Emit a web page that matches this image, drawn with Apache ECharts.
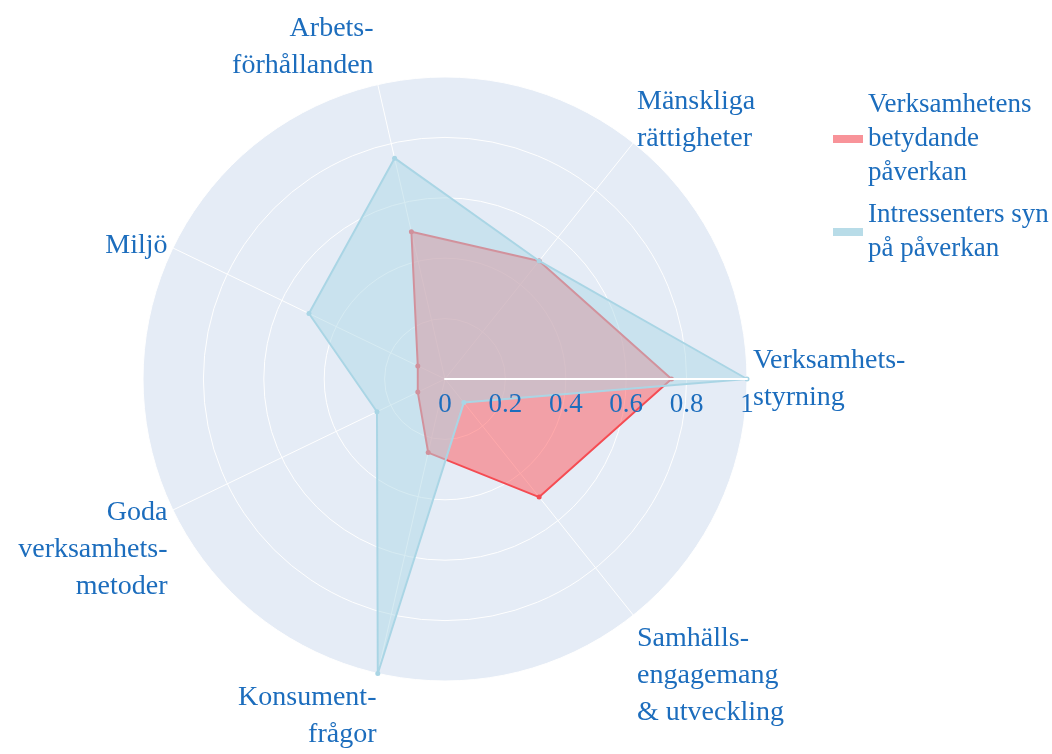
<!DOCTYPE html>
<html>
<head>
<meta charset="utf-8">
<script src="https://cdn.jsdelivr.net/npm/echarts@6/dist/echarts.min.js"></script>
<style>
  html, body { margin: 0; padding: 0; background: #fff; }
  #chart { width: 1052px; height: 754px; }
</style>
</head>
<body>
<div id="chart"></div>
<script>
// axes, counter-clockwise from the right
const categories = [
  'Verksamhets-\nstyrning',
  'Mänskliga\nrättigheter',
  'Arbets-\nförhållanden',
  'Miljö',
  'Goda\nverksamhets-\nmetoder',
  'Konsument-\nfrågor',
  'Samhälls-\nengagemang\n& utveckling'
]
const seriesNames = ['Verksamhetens betydande påverkan', 'Intressenters syn på påverkan']
const legendLabels = ['Verksamhetens\nbetydande\npåverkan', 'Intressenters syn\npå påverkan']
const verksamhetValues = [0.75, 0.5, 0.5, 0.1, 0.1, 0.25, 0.5]
const intressentValues = [1, 0.5, 0.75, 0.5, 0.25, 1, 0.1]
const radialTicks = [0, 0.2, 0.4, 0.6, 0.8, 1]

const textBlue = '#1c6dbd'
const font = 'Liberation Serif'

// empty lines shift the (middle-anchored) names up/down like the original
const padBefore = [0, 0, 0, 0, 2, 2, 3]
const padAfter = [0, 1, 1, 0, 0, 0, 0]
const nameGaps = [6, 6, 19, 6, 6, 6, 6]

const chart = echarts.init(document.getElementById('chart'))
chart.setOption({
  backgroundColor: '#fff',
  animation: false,
  legend: {
    orient: 'vertical',
    left: 828,
    top: 83,
    itemGap: 8,
    itemWidth: 30,
    itemHeight: 8,
    icon: 'rect',
    data: [
      { name: seriesNames[0], itemStyle: { color: 'rgba(246,120,128,0.8)' } },
      { name: seriesNames[1], itemStyle: { color: 'rgba(180,218,231,0.95)' } }
    ],
    formatter: function (name) {
      return legendLabels[seriesNames.indexOf(name)]
    },
    textStyle: {
      color: textBlue,
      fontFamily: font,
      fontSize: 27,
      lineHeight: 34
    }
  },
  radar: {
    center: [445, 379],
    radius: 302,
    startAngle: 0,
    shape: 'circle',
    splitNumber: 5,
    indicator: categories.map(function (c, i) {
      return {
        name: '\n'.repeat(padBefore[i]) + c + '\n'.repeat(padAfter[i]),
        nameGap: nameGaps[i],
        min: 0,
        max: 1
      }
    }),
    nameGap: 6,
    axisName: {
      color: textBlue,
      fontFamily: font,
      fontSize: 28,
      lineHeight: 37
    },
    splitArea: { areaStyle: { color: ['#e5ecf6'] } },
    splitLine: { lineStyle: { color: '#fff', width: 1 } },
    axisLine: { lineStyle: { color: '#fff', width: 1 } }
  },
  polar: {
    center: [445, 379],
    radius: 302
  },
  angleAxis: {
    type: 'value',
    startAngle: 0,
    min: 0,
    max: 360,
    show: false
  },
  radiusAxis: {
    type: 'value',
    min: 0,
    max: 1,
    interval: 0.2,
    z: 10,
    axisLine: { lineStyle: { color: '#fff', width: 2 } },
    axisTick: { show: false },
    splitLine: { show: false },
    axisLabel: {
      color: textBlue,
      fontFamily: font,
      fontSize: 27,
      margin: -39,
      formatter: function (v) {
        const r = Math.round(v * 10) / 10
        return radialTicks.indexOf(r) >= 0 ? String(r) : ''
      }
    }
  },
  series: [
    {
      name: seriesNames[0],
      type: 'radar',
      z: 2,
      symbol: 'circle',
      symbolSize: 5,
      lineStyle: { color: '#f24a52', width: 2 },
      itemStyle: { color: '#f24a52' },
      areaStyle: { color: '#ff5458', opacity: 0.5 },
      data: [{ name: seriesNames[0], value: verksamhetValues }]
    },
    {
      name: seriesNames[1],
      type: 'radar',
      z: 3,
      symbol: 'circle',
      symbolSize: 5,
      lineStyle: { color: '#a9d5e5', width: 2 },
      itemStyle: { color: '#a9d5e5' },
      areaStyle: { color: '#add8e6', opacity: 0.5 },
      data: [{ name: seriesNames[1], value: intressentValues }]
    }
  ]
})
</script>
</body>
</html>
